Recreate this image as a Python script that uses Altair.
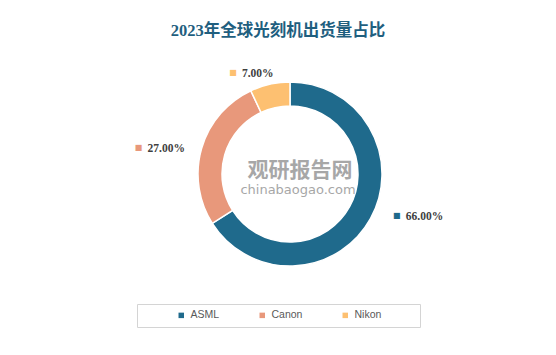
import altair as alt
import pandas as pd

title_text = "2023年全球光刻机出货量占比"
companies = ["ASML", "Canon", "Nikon"]
shares = [66.0, 27.0, 7.0]
colors = ["#1f6a8c", "#e8987b", "#fdc071"]
watermark_cn = "观研报告网"
watermark_en = "chinabaogao.com"

df = pd.DataFrame({"company": companies, "share": shares, "order": list(range(len(companies)))})

CX, CY = 280, 164  # donut centre inside the view
PAD_CH = "\u2800"  # blank glyph that is not trimmed as whitespace

base = alt.Chart(df)

ring = base.mark_arc(
    innerRadius=68, outerRadius=92, x=CX, y=CY, stroke="white", strokeWidth=1.5
).encode(
    theta=alt.Theta("share:Q", stack=True),
    color=alt.Color(
        "company:N",
        scale=alt.Scale(domain=companies, range=colors),
        legend=alt.Legend(
            orient="none", legendX=127, legendY=294, direction="horizontal",
            title="\u00a0", titleOrient="left", titlePadding=33, titleFontSize=10,
            symbolType="square", symbolSize=30, symbolStrokeWidth=0,
            labelFontSize=10.5, labelFont="Liberation Sans", labelColor="#595959",
            labelOffset=4, columnPadding=37, padding=6,
            strokeColor="#d4d4d4", fillColor="white",
            labelExpr="datum.label == 'Nikon' ? datum.label + '" + PAD_CH * 4 + "' : datum.label",
        ),
    ),
    order=alt.Order("order:Q"),
)

label_base = base.transform_window(
    cum="sum(share)", sort=[alt.SortField("order")], frame=[None, 0]
).transform_calculate(
    mid="datum.cum - datum.share / 2",
    label="format(datum.share, '.2f') + '%'",
)

label_style = {"ASML": (15, -12), "Canon": (-32, 7), "Nikon": (-23, 12)}
label_layers = []
for comp, colr in zip(companies, colors):
    dx, dy = label_style[comp]
    sub = label_base.transform_filter(alt.datum.company == comp)
    th = alt.Theta("mid:Q", scale=alt.Scale(domain=[0, 100]), stack=None)
    label_layers.append(
        sub.mark_text(
            x=CX, y=CY, radius=115, dx=dx - 9, dy=dy - 1, align="center", baseline="middle",
            font="DejaVu Sans", fontSize=8, color=colr,
        ).encode(theta=th, text=alt.value("■"))
    )
    label_layers.append(
        sub.mark_text(
            x=CX, y=CY, radius=115, dx=dx, dy=dy, align="left", baseline="middle",
            font="Liberation Serif", fontWeight="bold", fontSize=11.5, color="#404040",
        ).encode(theta=th, text="label:N")
    )

wm_df = pd.DataFrame({"cn": [watermark_cn], "en": [watermark_en]})
wm1 = alt.Chart(wm_df).mark_text(
    x=290, y=161, fontSize=21, fontWeight="bold", font="Noto Sans CJK SC", color="#8a8a8a", opacity=0.75
).encode(text="cn:N")
wm2 = alt.Chart(wm_df).mark_text(
    x=288, y=180, fontSize=13, font="DejaVu Sans", color="#8a8a8a", opacity=0.75
).encode(text="en:N")

chart = alt.layer(ring, *label_layers, wm1, wm2).resolve_scale(theta="independent").properties(
    width=536, height=335,
    autosize="none",
    padding={"left": 10, "top": 10, "right": 10, "bottom": 10},
    background="white",
    title=alt.Title(
        title_text, fontSize=16.5, font="Liberation Serif, Noto Sans CJK SC", fontWeight="bold",
        color="#1f5f7f", anchor="middle", offset=-29, frame="group",
    ),
).configure_view(fill="#fbfbfb", stroke="#e2e2e2", strokeWidth=1)

chart.save("out.html", embed_options={"renderer": "svg", "actions": False})
